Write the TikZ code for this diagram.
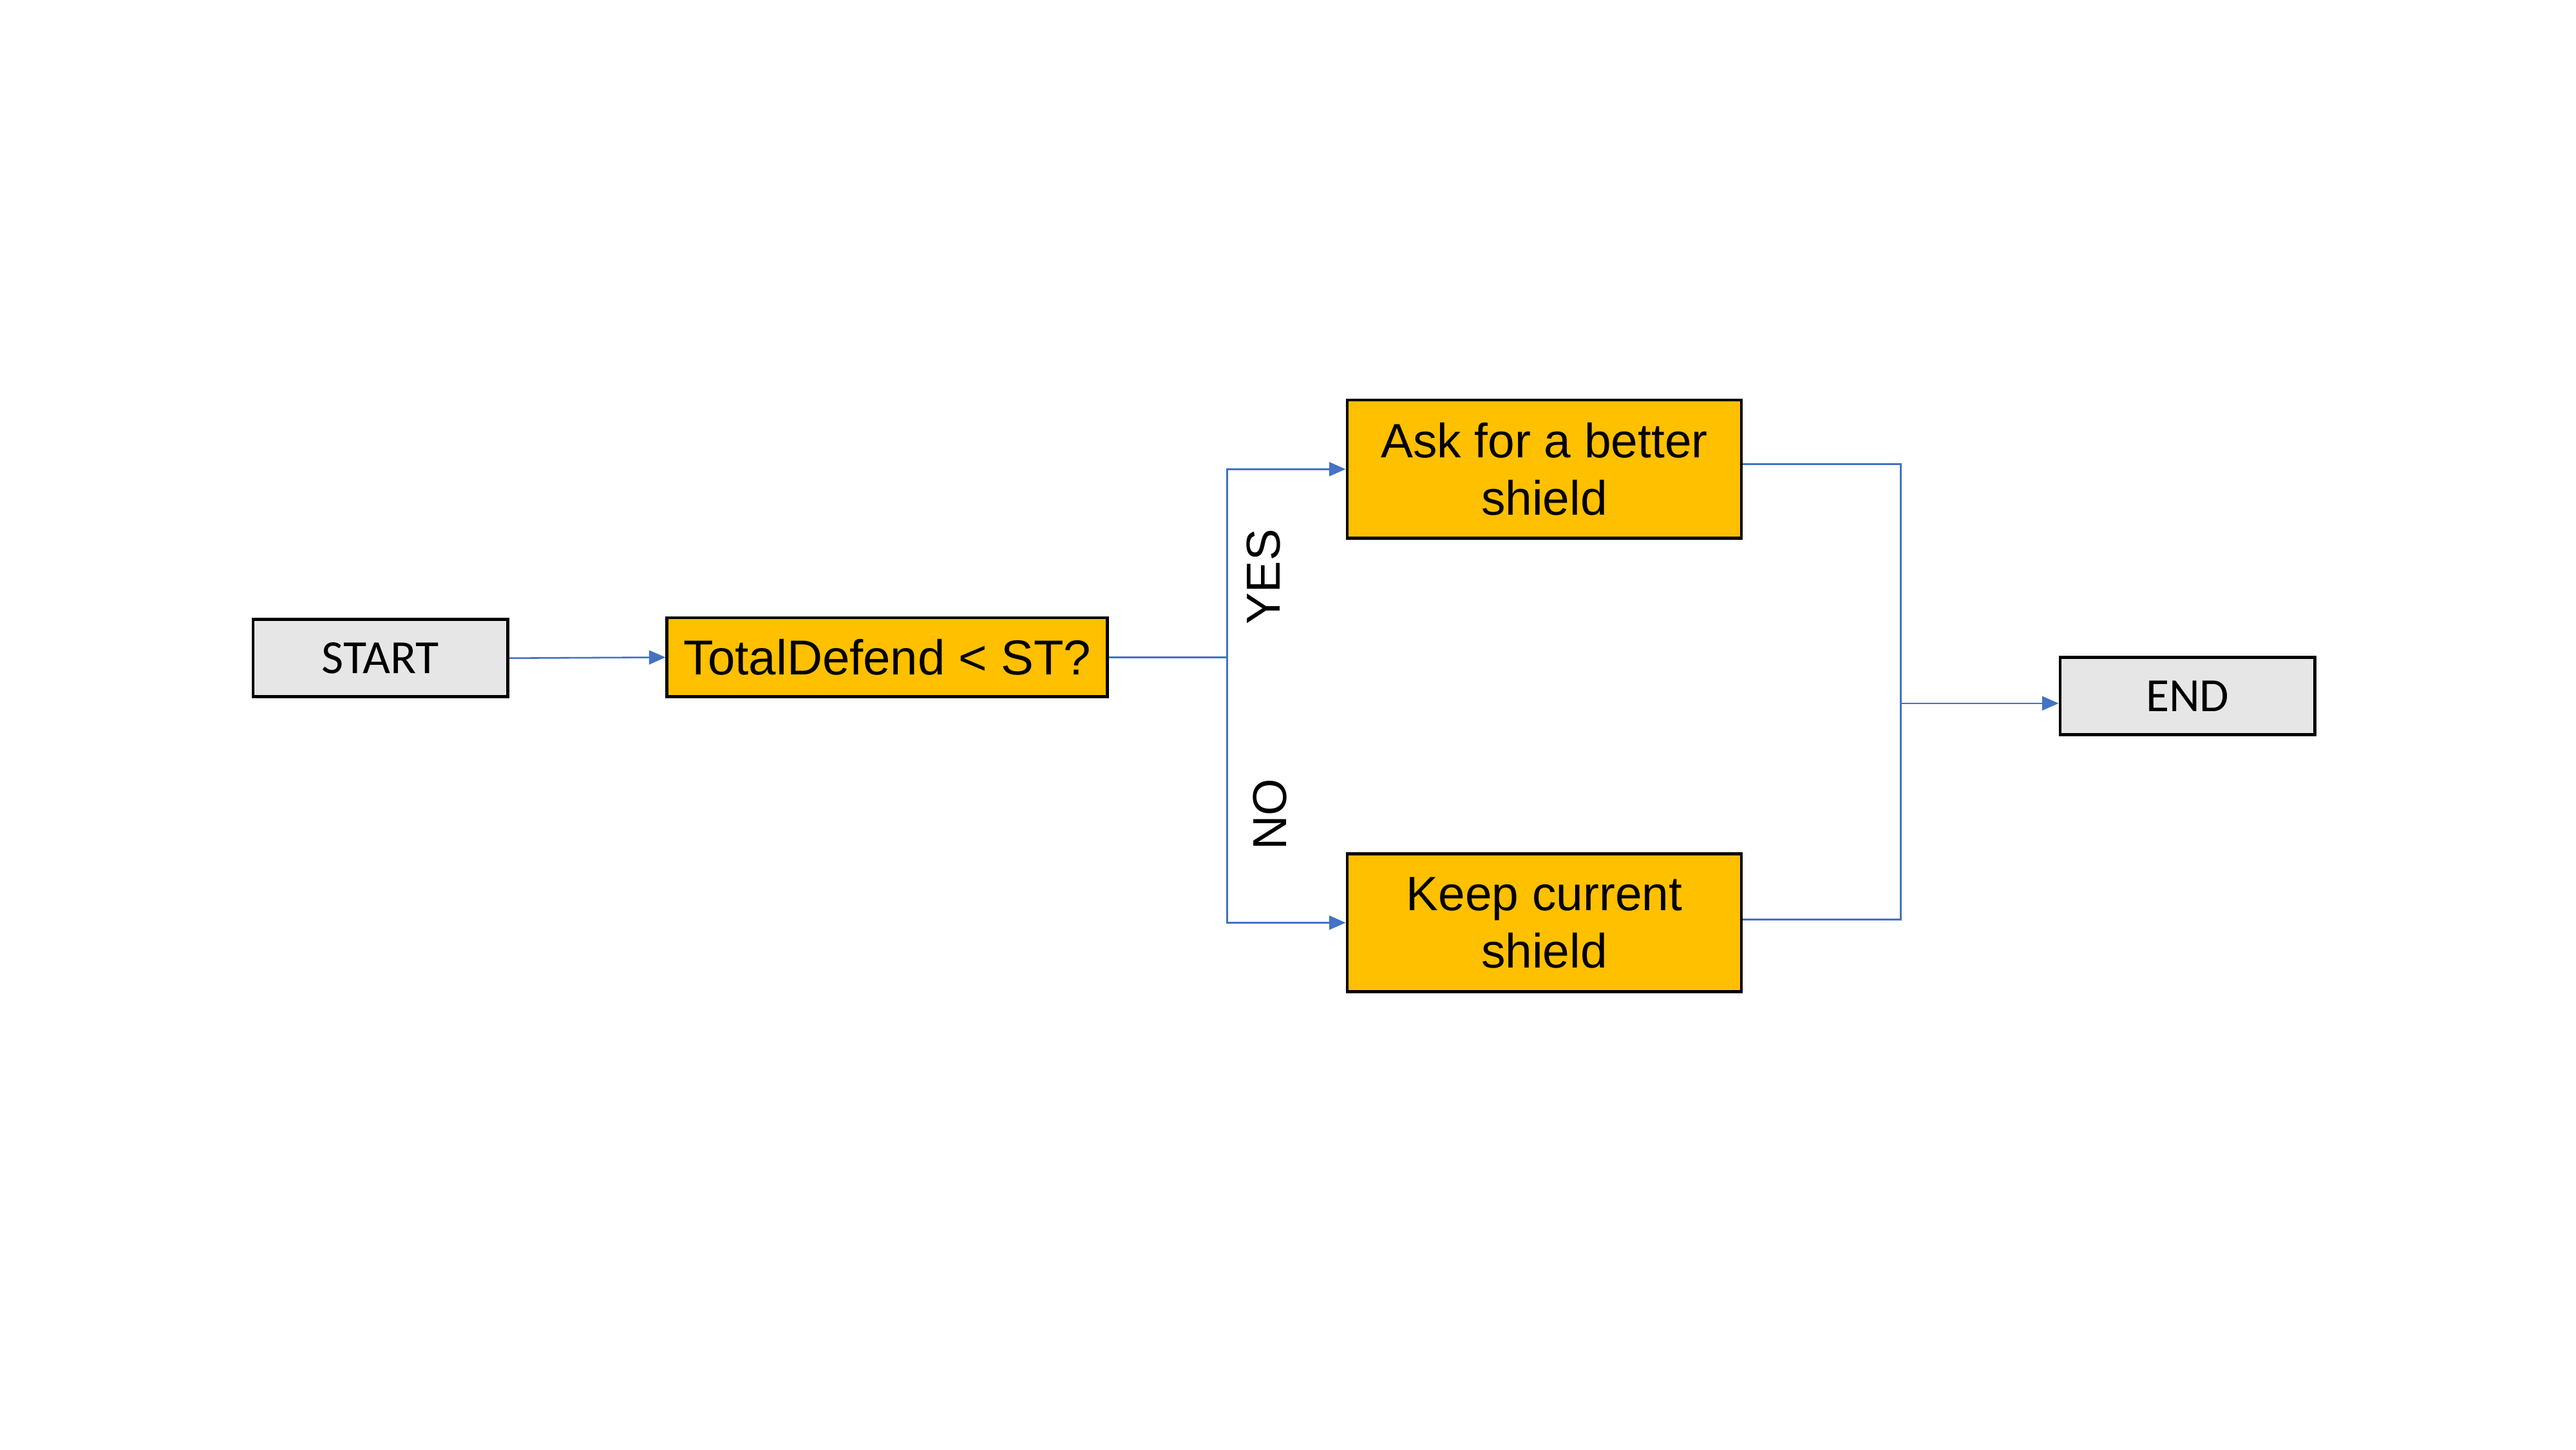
\documentclass[tikz,border=0pt]{standalone}
\usepackage{fontspec}
\setmainfont{Liberation Sans}
\newfontfamily\calib{Carlito}
\usetikzlibrary{arrows.meta,positioning}
\definecolor{boxorange}{HTML}{FFC000}
\definecolor{boxgray}{HTML}{E7E6E6}
\definecolor{lineblue}{HTML}{4472C4}
\tikzset{
  base/.style={draw=black,line width=1.8pt,inner sep=0pt,align=center,
    font=\fontsize{29.2}{34.8}\selectfont},
  termbox/.style={base,fill=boxgray,font=\calib\fontsize{28.85}{34.8}\selectfont,
    minimum width=154.2pt,minimum height=46.8pt},
  procbox/.style={base,fill=boxorange},
  bigbox/.style={procbox,minimum width=238.8pt,minimum height=83.6pt},
  conn/.style={draw=lineblue,line width=1pt},
  arr/.style={conn,-{Triangle[length=10pt,width=8.5pt]}},
  lbl/.style={rotate=90,font=\fontsize{28.85}{34.8}\selectfont,inner sep=0pt}
}
\begin{document}
\begin{tikzpicture}[x=0.9949pt,y=0.9949pt]
\useasboundingbox (0,0) rectangle (1568,-882);
\node[termbox] (start) at (231.5,-400.5) {START};
\node[procbox,minimum width=266.6pt,minimum height=47.8pt,
  font=\fontsize{29.7}{34.8}\selectfont] (td) at (540,-400) {TotalDefend < ST?};
\node[bigbox] (ask) at (940,-285.5) {Ask for a better\\shield};
\node[bigbox] (keep) at (940,-561.5) {Keep current\\shield};
\node[termbox] (end) at (1331.5,-423.5) {END};
\coordinate (sp) at (747,-400);
\coordinate (mg) at (1157,-428);
\draw[arr] (start.east) -- (td.west);
\draw[conn] (td.east) -- (sp);
\draw[arr] (sp) |- (ask.west);
\draw[arr] (sp) |- (keep.west);
\draw[conn] ([yshift=3pt]ask.east) -| (mg);
\draw[conn] ([yshift=2pt]keep.east) -| (mg);
\draw[arr] (mg) -- (mg -| end.west);
\node[lbl] (yes) at (769,-351) {YES};
\node[lbl] (no) at (773,-495.5) {NO};
\end{tikzpicture}
\end{document}
